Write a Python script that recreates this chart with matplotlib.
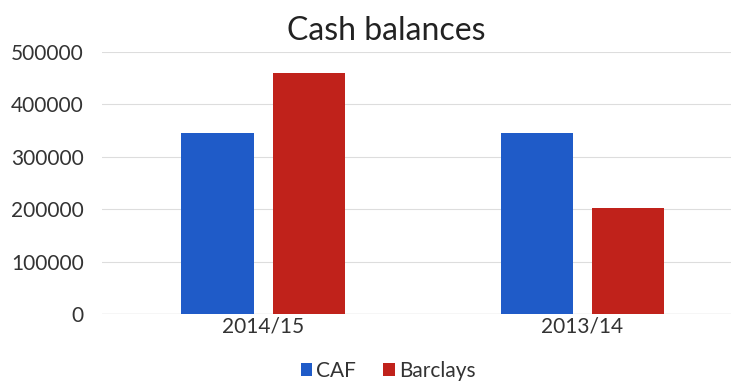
import matplotlib.pyplot as plt
import numpy as np

categories = ["2014/15", "2013/14"]
caf = [345000, 345000]
barclays = [459000, 202000]
yticks = [0, 100000, 200000, 300000, 400000, 500000]

plt.rcParams["font.family"] = ["Lato", "DejaVu Sans"]

fig = plt.figure(figsize=(7.31, 3.83), dpi=100)
# plot area runs past the right edge, as in the cropped reference
ax = fig.add_axes([102 / 731, 69 / 383, 640 / 731, 262 / 383])

x = np.arange(len(categories))
w = 0.226
ax.bar(x - 0.143, caf, w, color="#1f5bc8", label="CAF")
ax.bar(x + 0.143, barclays, w, color="#c0221b", label="Barclays")

ax.set_xlim(-0.505, 1.5)
ax.set_ylim(0, 500000)
ax.set_yticks(yticks)
ax.set_yticklabels([str(v) for v in yticks])
ax.set_xticks(x)
ax.set_xticklabels(categories)
ax.tick_params(axis="both", length=0, labelsize=15, colors="#333333")
ax.tick_params(axis="y", pad=13)
ax.tick_params(axis="x", pad=2)
ax.yaxis.grid(True, color="#dddddd", linewidth=0.8)
ax.set_axisbelow(True)
for s in ax.spines.values():
    s.set_visible(False)
ax.axhline(0, color="#cccccc", linewidth=0.9, zorder=0)

fig.text(386 / 731, 1 - 31 / 383, "Cash balances", ha="center", va="center",
         fontsize=23, color="#222222")
fig.legend(loc="center", bbox_to_anchor=(388 / 731, 1 - 371 / 383), ncol=2,
           frameon=False, fontsize=15, handlelength=0.55, handleheight=0.55,
           handletextpad=0.2, columnspacing=1.3, labelcolor="#333333")

fig.savefig("out.png", dpi=100)
